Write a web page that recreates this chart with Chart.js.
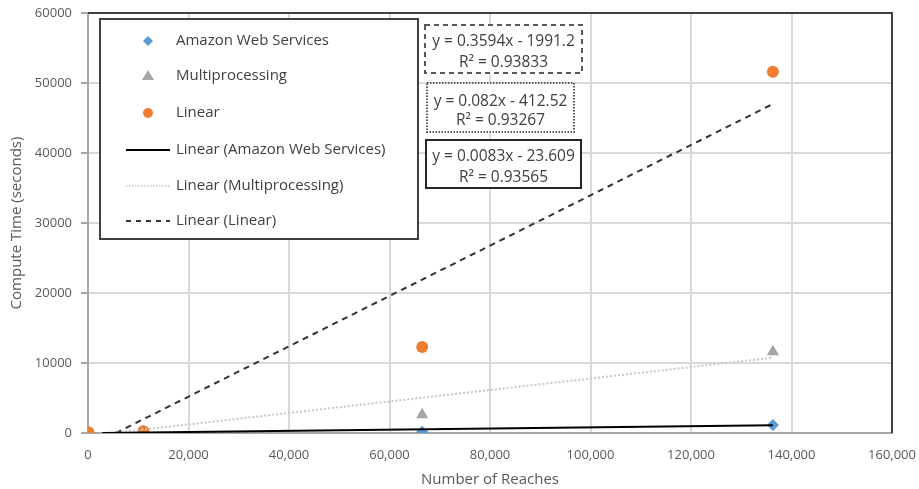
<!DOCTYPE html>
<html><head><meta charset="utf-8">
<script src="https://cdn.jsdelivr.net/npm/chart.js@4.4.1/dist/chart.umd.min.js"></script>
<style>html,body{margin:0;padding:0;background:#fff}#wrap{width:919px;height:489px}</style>
</head><body><div id="wrap"><canvas id="c" width="919" height="489"></canvas></div>
<script>
// ---- data ----
const reachX = [100, 11000, 66500, 136300];
const awsY = [5, 50, 180, 1150];
const multiY = [20, 180, 2600, 11600];
const linearY = [100, 250, 12300, 51600];
// trendline endpoints (x, y)
const awsTrendX = [2850, 136300];
const awsTrendY = [0, 1107];
const multiTrendX = [5030, 136300];
const multiTrendY = [0, 10760];
const linTrendX = [5540, 136300];
const linTrendY = [0, 47000];
const seriesNames = ['Amazon Web Services','Multiprocessing','Linear','Linear (Amazon Web Services)','Linear (Multiprocessing)','Linear (Linear)'];
const eqLabels = [['y = 0.3594x - 1991.2','R² = 0.93833'],['y = 0.082x - 412.52','R² = 0.93267'],['y = 0.0083x - 23.609','R² = 0.93565']];
const xTicks = [0,20000,40000,60000,80000,100000,120000,140000,160000];
const yTicks = [0,10000,20000,30000,40000,50000,60000];

const pts = (xs, ys) => xs.map((x,i)=>({x:x,y:ys[i]}));
const FONT = '"Open Sans", sans-serif';
const TXT = '#404040';

const overlay = {
  id:'overlay',
  afterDraw(chart){
    const ctx = chart.ctx, a = chart.chartArea;
    ctx.save();
    // top & right frame
    ctx.strokeStyle = '#404040'; ctx.lineWidth = 2;
    ctx.beginPath(); ctx.moveTo(a.left, a.top); ctx.lineTo(a.right, a.top); ctx.lineTo(a.right, a.bottom); ctx.stroke();
    // legend box
    const lx=100, ly=19, lw=318, lh=220;
    ctx.fillStyle='#fff'; ctx.fillRect(lx,ly,lw,lh);
    ctx.strokeStyle='#404040'; ctx.lineWidth=2; ctx.strokeRect(lx,ly,lw,lh);
    ctx.font = '15px ' + FONT; ctx.fillStyle = TXT; ctx.textBaseline='middle'; ctx.textAlign='left';
    const rows = [41,76,113,150,186,221];
    rows.forEach((ry,i)=>{
      const mx = 148;
      ctx.save();
      if(i===0){ ctx.fillStyle='#5b9bd5'; ctx.beginPath(); ctx.moveTo(mx,ry-5); ctx.lineTo(mx+5,ry); ctx.lineTo(mx,ry+5); ctx.lineTo(mx-5,ry); ctx.closePath(); ctx.fill(); }
      if(i===1){ ctx.fillStyle='#a5a5a5'; ctx.beginPath(); ctx.moveTo(mx,ry-6); ctx.lineTo(mx+6,ry+4); ctx.lineTo(mx-6,ry+4); ctx.closePath(); ctx.fill(); }
      if(i===2){ ctx.fillStyle='#ed7d31'; ctx.beginPath(); ctx.arc(mx,ry,5,0,Math.PI*2); ctx.fill(); }
      if(i>=3){
        ctx.lineWidth = i===4?1.5:2;
        ctx.strokeStyle = i===3?'#000':(i===4?'#c8c8c8':'#333');
        ctx.setLineDash(i===3?[]:(i===4?[1.5,1.5]:[5,5]));
        ctx.beginPath(); ctx.moveTo(126,ry); ctx.lineTo(170,ry); ctx.stroke();
      }
      ctx.restore();
      ctx.fillStyle = TXT;
      ctx.fillText(seriesNames[i], 176, ry);
    });
    // equation boxes
    const boxes = [
      {x:425,y:25,w:157,h:48,dash:[5,4],col:'#595959',lw:2,l1:42,l2:63},
      {x:427,y:83,w:147,h:49,dash:[1.5,1.5],col:'#595959',lw:2,l1:102,l2:121},
      {x:426,y:140,w:155,h:48,dash:[],col:'#262626',lw:2,l1:157,l2:178}
    ];
    boxes.forEach((b,i)=>{
      ctx.fillStyle='#fff'; ctx.fillRect(b.x,b.y,b.w,b.h);
      ctx.save(); ctx.setLineDash(b.dash); ctx.strokeStyle=b.col; ctx.lineWidth=b.lw; ctx.strokeRect(b.x,b.y,b.w,b.h); ctx.restore();
      ctx.fillStyle=TXT; ctx.textAlign='center'; ctx.font='15.5px '+FONT;
      ctx.fillText(eqLabels[i][0], b.x+b.w/2, b.l1);
      ctx.fillText(eqLabels[i][1], b.x+b.w/2, b.l2);
    });
    ctx.restore();
  }
};

new Chart(document.getElementById('c'), {
  type:'scatter',
  data:{datasets:[
    {label:seriesNames[3], data:pts(awsTrendX,awsTrendY), showLine:true, borderColor:'#000', borderWidth:2, pointRadius:0, fill:false, order:1},
    {label:seriesNames[4], data:pts(multiTrendX,multiTrendY), showLine:true, borderColor:'#c8c8c8', borderWidth:2, borderDash:[2,2], pointRadius:0, fill:false, order:1},
    {label:seriesNames[5], data:pts(linTrendX,linTrendY), showLine:true, borderColor:'#333', borderWidth:2, borderDash:[6,5], pointRadius:0, fill:false, order:1},
    {label:seriesNames[0], data:pts(reachX,awsY), pointStyle:'rectRot', pointRadius:6, backgroundColor:'#5b9bd5', borderColor:'#5b9bd5', borderWidth:0, order:4},
    {label:seriesNames[1], data:pts(reachX,multiY), pointStyle:'triangle', pointRadius:7, backgroundColor:'#a5a5a5', borderColor:'#a5a5a5', borderWidth:0, order:3},
    {label:seriesNames[2], data:pts(reachX,linearY), pointStyle:'circle', pointRadius:6, backgroundColor:'#ed7d31', borderColor:'#ed7d31', borderWidth:0, order:2}
  ]},
  options:{
    responsive:false, animation:false, devicePixelRatio:1,
    layout:{padding:{left:0,right:27,top:13,bottom:0}},
    plugins:{legend:{display:false}, tooltip:{enabled:false}},
    scales:{
      x:{type:'linear', min:0, max:160000,
        afterBuildTicks:(s)=>{s.ticks = xTicks.map(v=>({value:v}));},
        afterFit:(s)=>{s.height = 56; s.paddingLeft = 0; s.paddingRight = 0;},
        ticks:{color:'#595959', font:{family:FONT,size:13}, padding:14, maxRotation:0,
          callback:(v)=>v.toLocaleString('en-US')},
        grid:{color:'#d9d9d9', lineWidth:2, drawTicks:false},
        border:{color:'#a6a6a6', width:2},
        title:{display:true, text:'Number of Reaches', color:'#595959', font:{family:FONT,size:15}, padding:{top:0,bottom:0}}
      },
      y:{type:'linear', min:0, max:60000,
        afterBuildTicks:(s)=>{s.ticks = yTicks.map(v=>({value:v}));},
        afterFit:(s)=>{s.width = 88; s.paddingTop = 0; s.paddingBottom = 0;},
        ticks:{color:'#595959', font:{family:FONT,size:13}, padding:9, callback:(v)=>String(v)},
        grid:{color:'#d9d9d9', lineWidth:2, tickLength:7, tickColor:'#a6a6a6'},
        border:{color:'#a6a6a6', width:2},
        title:{display:true, text:'Compute Time (seconds)', color:'#595959', font:{family:FONT,size:15}, padding:{top:8,bottom:0}}
      }
    }
  },
  plugins:[overlay]
});
</script></body></html>
